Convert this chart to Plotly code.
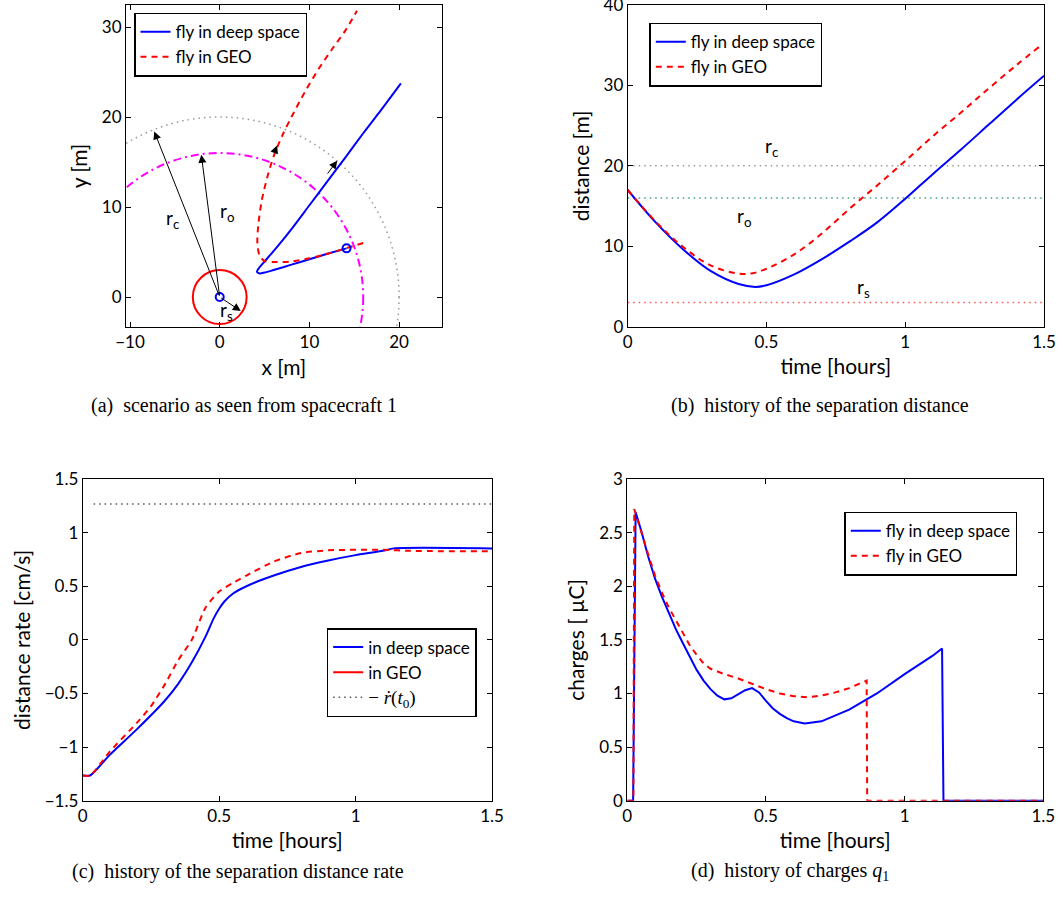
import plotly.graph_objects as go

W, H = 1063, 899

# ---------------- data: panel (a) trajectories in x-y plane [m] ----------------
traj_deep_x = [14.14, 12.0, 10.0, 8.0, 6.0, 5.0, 4.45, 4.15, 4.4, 5.0, 6.0, 7.0, 8.0, 10.0, 12.0, 14.0, 16.0, 18.0, 20.2]
traj_deep_y = [5.41, 4.8, 4.2, 3.6, 3.0, 2.72, 2.62, 2.8, 3.25, 3.95, 5.1, 6.3, 7.55, 10.2, 12.85, 15.5, 18.2, 20.8, 23.75]
traj_geo_x = [16.0, 14.0, 12.0, 10.0, 8.0, 6.0, 5.0, 4.45, 4.2, 4.3, 4.7, 5.3, 6.0, 7.0, 8.0, 9.5, 11.0, 12.5, 14.0, 15.3]
traj_geo_y = [6.0, 5.4, 4.8, 4.3, 3.95, 3.9, 4.0, 4.6, 6.0, 8.0, 10.8, 13.3, 15.6, 18.0, 20.0, 22.8, 25.3, 27.5, 29.6, 31.8]
start_x = [0.0, 14.14]
start_y = [0.0, 5.41]
r_s, r_o, r_c = 3.0, 16.0, 20.0
radius_tips_x = [-7.3, -2.05, 2.35]
radius_tips_y = [18.4, 15.8, -1.55]

# ---------------- panel (b): separation distance [m] ----------------
t_dist_deep = [0, 0.1, 0.2, 0.3, 0.4, 0.46, 0.5, 0.6, 0.7, 0.8, 0.9, 1.0, 1.1, 1.2, 1.3, 1.4, 1.5]
dist_deep = [17.0, 13.0, 9.6, 6.9, 5.3, 4.95, 5.15, 6.5, 8.4, 10.6, 13.0, 15.9, 19.0, 22.0, 25.1, 28.2, 31.2]
t_dist_geo = [0, 0.1, 0.2, 0.3, 0.4, 0.45, 0.5, 0.6, 0.7, 0.8, 0.9, 1.0, 1.1, 1.2, 1.3, 1.4, 1.49]
dist_geo = [17.0, 13.1, 9.9, 7.6, 6.6, 6.65, 7.2, 9.0, 11.6, 14.7, 17.6, 20.6, 23.7, 26.6, 29.6, 32.5, 35.0]

# ---------------- panel (c): separation distance rate [cm/s] ----------------
t_rate_deep = [0, 0.027, 0.1, 0.2, 0.3, 0.35, 0.4, 0.45, 0.48, 0.5, 0.52, 0.55, 0.6, 0.7, 0.8, 0.9, 1.0, 1.1, 1.14, 1.5]
rate_deep = [-1.265, -1.265, -1.07, -0.83, -0.57, -0.41, -0.21, 0.03, 0.2, 0.29, 0.36, 0.43, 0.5, 0.6, 0.68, 0.74, 0.79, 0.83, 0.853, 0.853]
t_rate_geo = [0, 0.027, 0.1, 0.2, 0.25, 0.3, 0.35, 0.4, 0.45, 0.5, 0.55, 0.6, 0.7, 0.8, 0.9, 1.0, 1.1, 1.2, 1.5]
rate_geo = [-1.265, -1.265, -1.04, -0.77, -0.62, -0.42, -0.19, 0.0, 0.3, 0.45, 0.53, 0.6, 0.73, 0.81, 0.835, 0.84, 0.84, 0.83, 0.825]
neg_rdot0 = 1.267

# ---------------- panel (d): charges q1 [uC] ----------------
t_q_deep = [0, 0.021, 0.03, 0.05, 0.075, 0.1, 0.125, 0.15, 0.175, 0.2, 0.225, 0.25, 0.275, 0.3, 0.325, 0.35,
            0.375, 0.4, 0.425, 0.45, 0.475, 0.5, 0.525, 0.55, 0.575, 0.6, 0.64, 0.7, 0.8, 0.9, 1.0, 1.1, 1.135, 1.14, 1.5]
q_deep = [0, 0, 2.69, 2.52, 2.28, 2.07, 1.9, 1.75, 1.6, 1.47, 1.34, 1.22, 1.12, 1.04, 0.98, 0.945,
          0.955, 0.99, 1.03, 1.05, 1.01, 0.93, 0.86, 0.81, 0.77, 0.74, 0.72, 0.74, 0.85, 1.0, 1.18, 1.35, 1.42, 0, 0]
t_q_geo = [0, 0.022, 0.025, 0.05, 0.075, 0.1, 0.125, 0.15, 0.175, 0.2, 0.225, 0.25, 0.275, 0.3, 0.35, 0.4,
           0.45, 0.5, 0.55, 0.6, 0.65, 0.7, 0.75, 0.8, 0.863, 0.865, 1.5]
q_geo = [0, 0, 2.72, 2.5, 2.3, 2.1, 1.94, 1.8, 1.68, 1.57, 1.45, 1.36, 1.28, 1.23, 1.18, 1.14,
         1.09, 1.04, 1.0, 0.975, 0.965, 0.98, 1.01, 1.05, 1.12, 0, 0]

BLUE = "#0000ff"
RED = "#ff0000"
FONT = "Lato"


def px(x):
    return x / W


def py(y):
    return 1 - y / H


fig = go.Figure()

# ---- panel (a)
fig.add_trace(go.Scatter(x=traj_deep_x, y=traj_deep_y, mode="lines", line=dict(color=BLUE, width=2, shape="spline", smoothing=0.8),
                         name="fly in deep space", legend="legend", xaxis="x", yaxis="y"))
fig.add_trace(go.Scatter(x=traj_geo_x, y=traj_geo_y, mode="lines",
                         line=dict(color=RED, width=2, dash="6px,5px", shape="spline", smoothing=0.8),
                         name="fly in GEO", legend="legend", xaxis="x", yaxis="y"))
fig.add_trace(go.Scatter(x=start_x, y=start_y, mode="markers",
                         marker=dict(symbol="circle-open", size=8, color=BLUE, line=dict(width=2)),
                         showlegend=False, xaxis="x", yaxis="y"))

shapes = []
for r, col, dash, wd in [(r_s, RED, "solid", 2), (r_o, "#ff00ff", "8px,4px,2px,4px", 2), (r_c, "#999999", "1.5px,4px", 1.5)]:
    shapes.append(dict(type="circle", xref="x", yref="y", x0=-r, x1=r, y0=-r, y1=r,
                       line=dict(color=col, width=wd, dash=dash), layer="below"))

annotations = []
for tx, ty in zip(radius_tips_x, radius_tips_y):
    annotations.append(dict(x=tx, y=ty, ax=0, ay=0, xref="x", yref="y", axref="x", ayref="y",
                            showarrow=True, arrowhead=2, arrowsize=1.6, arrowwidth=1, arrowcolor="black", text=""))
# direction arrows on trajectories
annotations.append(dict(x=13.1, y=15.15, ax=11.9, ay=13.55, xref="x", yref="y", axref="x", ayref="y",
                        showarrow=True, arrowhead=2, arrowsize=1.6, arrowwidth=1, arrowcolor="black", text=""))
annotations.append(dict(x=6.4, y=16.85, ax=6.05, ay=15.95, xref="x", yref="y", axref="x", ayref="y",
                        showarrow=True, arrowhead=2, arrowsize=1.6, arrowwidth=1, arrowcolor="black", text=""))
lab_font = dict(family=FONT, size=19, color="black")
annotations += [
    dict(x=-5.2, y=8.7, xref="x", yref="y", text="r<sub>c</sub>", showarrow=False, font=lab_font),
    dict(x=0.8, y=9.5, xref="x", yref="y", text="r<sub>o</sub>", showarrow=False, font=lab_font),
    dict(x=0.7, y=-1.55, xref="x", yref="y", text="r<sub>s</sub>", showarrow=False, font=lab_font),
]

# ---- panel (b)
fig.add_trace(go.Scatter(x=[0, 1.5], y=[r_c, r_c], mode="lines", line=dict(color="#999999", width=1.5, dash="1.5px,4px"),
                         showlegend=False, xaxis="x2", yaxis="y2"))
fig.add_trace(go.Scatter(x=[0, 1.5], y=[r_o, r_o], mode="lines", line=dict(color="#3fa27a", width=1.5, dash="1.5px,4px"),
                         showlegend=False, xaxis="x2", yaxis="y2"))
fig.add_trace(go.Scatter(x=[0, 1.5], y=[r_s, r_s], mode="lines", line=dict(color="#ff5050", width=1.5, dash="1.5px,4px"),
                         showlegend=False, xaxis="x2", yaxis="y2"))
fig.add_trace(go.Scatter(x=t_dist_deep, y=dist_deep, mode="lines", line=dict(color=BLUE, width=2, shape="spline"),
                         name="fly in deep space", legend="legend2", xaxis="x2", yaxis="y2"))
fig.add_trace(go.Scatter(x=t_dist_geo, y=dist_geo, mode="lines", line=dict(color=RED, width=2, dash="6px,5px", shape="spline"),
                         name="fly in GEO", legend="legend2", xaxis="x2", yaxis="y2"))
annotations += [
    dict(x=0.52, y=22.4, xref="x2", yref="y2", text="r<sub>c</sub>", showarrow=False, font=lab_font),
    dict(x=0.42, y=13.6, xref="x2", yref="y2", text="r<sub>o</sub>", showarrow=False, font=lab_font),
    dict(x=0.85, y=4.8, xref="x2", yref="y2", text="r<sub>s</sub>", showarrow=False, font=lab_font),
]

# ---- panel (c)
fig.add_trace(go.Scatter(x=t_rate_deep, y=rate_deep, mode="lines", line=dict(color=BLUE, width=2, shape="spline", smoothing=0.6),
                         name="in deep space", legend="legend3", xaxis="x3", yaxis="y3"))
fig.add_trace(go.Scatter(x=t_rate_geo, y=rate_geo, mode="lines",
                         line=dict(color=RED, width=2, dash="6px,5px", shape="spline", smoothing=0.6),
                         showlegend=False, xaxis="x3", yaxis="y3"))
fig.add_trace(go.Scatter(x=[None], y=[None], mode="lines", line=dict(color=RED, width=2),
                         name="in GEO", legend="legend3", xaxis="x3", yaxis="y3"))
fig.add_trace(go.Scatter(x=[0.04, 1.5], y=[neg_rdot0, neg_rdot0], mode="lines",
                         line=dict(color="#555555", width=1.3, dash="1.5px,4px"),
                         name="<span style=\"font-family:'Liberation Serif';font-size:19px\">− <i>ṙ</i>(<i>t</i><sub>0</sub>)</span>",
                         legend="legend3", xaxis="x3", yaxis="y3"))

# ---- panel (d)
fig.add_trace(go.Scatter(x=t_q_deep, y=q_deep, mode="lines", line=dict(color=BLUE, width=2),
                         name="fly in deep space", legend="legend4", xaxis="x4", yaxis="y4"))
fig.add_trace(go.Scatter(x=t_q_geo, y=q_geo, mode="lines", line=dict(color=RED, width=2, dash="6px,5px"),
                         name="fly in GEO", legend="legend4", xaxis="x4", yaxis="y4"))

# captions
cap_font = dict(family="Liberation Serif", size=20, color="black")
cap_common = dict(xref="paper", yref="paper", xanchor="center", yanchor="middle", showarrow=False, font=cap_font)
annotations += [
    dict(x=px(244), y=py(405), text="(a)  scenario as seen from spacecraft 1", **cap_common),
    dict(x=px(820), y=py(405), text="(b)  history of the separation distance", **cap_common),
    dict(x=px(238), y=py(871), text="(c)  history of the separation distance rate", **cap_common),
    dict(x=px(790), y=py(871), text="(d)  history of charges <i>q</i><sub>1</sub>", **cap_common),
]


def axis(domain, rng, tickvals, title, ticktext=None, standoff=8):
    d = dict(domain=domain, range=rng, tickvals=tickvals, showline=True, linecolor="black", linewidth=1,
             mirror="ticks", ticks="inside", ticklen=5, tickcolor="black", showgrid=False, zeroline=False,
             tickfont=dict(family=FONT, size=17, color="black"), ticklabeloverflow="allow",
             title=dict(text=title, font=dict(family=FONT, size=21, color="black"), standoff=standoff),
             automargin=False)
    if ticktext is not None:
        d["ticktext"] = ticktext
    return d


tv_t = [0, 0.5, 1, 1.5]
tt_t = ["0", "0.5", "1", "1.5"]

leg_common = dict(bgcolor="white", bordercolor="black", borderwidth=1.5, xanchor="left", yanchor="top",
                  font=dict(family=FONT, size=17, color="black"), tracegroupgap=0, itemwidth=30)

fig.update_layout(
    width=W, height=H, margin=dict(l=0, r=0, t=0, b=0),
    paper_bgcolor="white", plot_bgcolor="white",
    xaxis=axis([px(126), px(441.7)], [-10.45, 24.75], [-10, 0, 10, 20], "x [m]"),
    yaxis=axis([py(327), py(5)], [-3.33, 32.45], [0, 10, 20, 30], "y [m]"),
    xaxis2=axis([px(627.7), px(1044)], [0, 1.5], tv_t, "time [hours]", tt_t),
    yaxis2=axis([py(326.7), py(5)], [0, 40], [0, 10, 20, 30, 40], "distance [m]"),
    xaxis3=axis([px(82.7), px(492)], [0, 1.5], tv_t, "time [hours]", tt_t),
    yaxis3=axis([py(800.7), py(479)], [-1.5, 1.5], [-1.5, -1, -0.5, 0, 0.5, 1, 1.5], "distance rate [cm/s]"),
    xaxis4=axis([px(627.3), px(1043.3)], [0, 1.5], tv_t, "time [hours]", tt_t),
    yaxis4=axis([py(800.7), py(479)], [0, 3], [0, 0.5, 1, 1.5, 2, 2.5, 3], "charges [ µC]"),
    legend=dict(x=px(134), y=py(12.7), **leg_common),
    legend2=dict(x=px(649.3), y=py(22.7), **leg_common),
    legend3=dict(x=px(326.7), y=py(628), **leg_common),
    legend4=dict(x=px(844.3), y=py(511.7), **leg_common),
    shapes=shapes,
    annotations=annotations,
    showlegend=True,
)
fig.layout.xaxis.anchor = "y"
fig.layout.yaxis.anchor = "x"
fig.layout.xaxis2.anchor = "y2"
fig.layout.yaxis2.anchor = "x2"
fig.layout.xaxis3.anchor = "y3"
fig.layout.yaxis3.anchor = "x3"
fig.layout.xaxis4.anchor = "y4"
fig.layout.yaxis4.anchor = "x4"

fig.write_html("out.html", config={"displayModeBar": False},
               post_script="document.body.style.margin='0';document.body.style.overflow='hidden';")
